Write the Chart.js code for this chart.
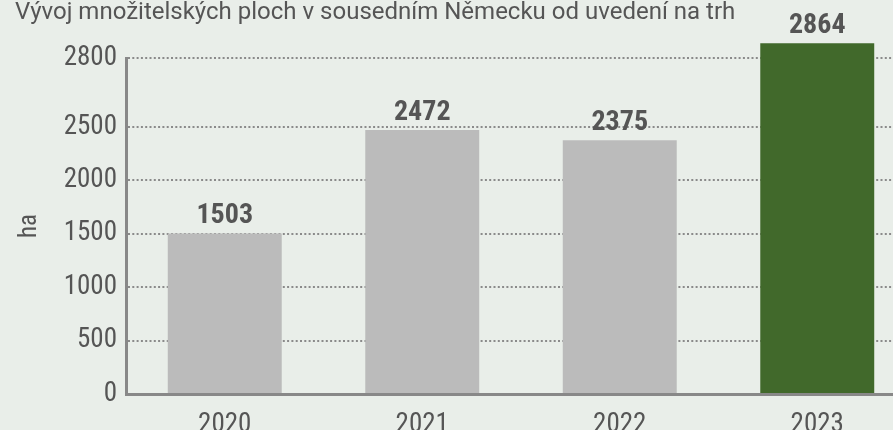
<!DOCTYPE html>
<html>
<head>
<meta charset="utf-8">
<script src="https://cdn.jsdelivr.net/npm/chart.js@4.4.1/dist/chart.umd.min.js"></script>
<style>
  html, body { margin: 0; padding: 0; background: #e9eee9; overflow: hidden; }
  #wrap { width: 918px; height: 430px; }
</style>
</head>
<body>
<div id="wrap"><canvas id="chart" width="918" height="430"></canvas></div>
<script>
const TITLE = "Vývoj množitelských ploch v sousedním Německu od uvedení na trh";
const years = ["2020", "2021", "2022", "2023"];
const areaHa = [1503, 2472, 2375, 2864];
const yTicks = [0, 500, 1000, 1500, 2000, 2500, 2800];
const yUnit = "ha";
const barColors = ["#bbbbbb", "#bbbbbb", "#bbbbbb", "#41692b"];

const FONT = '"Liberation Sans Narrow", "Roboto Condensed", "DejaVu Sans Condensed", "Liberation Sans", sans-serif';
const TITLE_FONT = 'Roboto, "Liberation Sans", sans-serif';
const TEXT = "#555555";

// The source axis is not linear: the 2800 line sits much higher than the
// 500-step spacing would put it. Reproduce that with a stretched top segment.
const STRETCH_FROM = 2500;
const STRETCH = 2.15;
function warp(v) { return v <= STRETCH_FROM ? v : STRETCH_FROM + (v - STRETCH_FROM) * STRETCH; }
function unwarp(w) { return w <= STRETCH_FROM ? w : STRETCH_FROM + (w - STRETCH_FROM) / STRETCH; }

class StretchScale extends Chart.LinearScale {
  getPixelForValue(value) {
    const lo = warp(this.min), hi = warp(this.max);
    return this.getPixelForDecimal((warp(value) - lo) / (hi - lo));
  }
  getValueForPixel(pixel) {
    const lo = warp(this.min), hi = warp(this.max);
    return unwarp(lo + this.getDecimalForPixel(pixel) * (hi - lo));
  }
}
StretchScale.id = "stretch";
StretchScale.defaults = Chart.LinearScale.defaults;
Chart.register(StretchScale);

// title text top-left, above the plot
const titlePlugin = {
  id: "titleText",
  beforeDraw(chart) {
    const ctx = chart.ctx;
    ctx.save();
    ctx.font = "24px " + TITLE_FONT;
    ctx.fillStyle = TEXT;
    ctx.textAlign = "left";
    ctx.textBaseline = "alphabetic";
    ctx.fillText(TITLE, 15, 19);
    ctx.restore();
  }
};

// bold value on top of every bar
const valueLabels = {
  id: "valueLabels",
  afterDatasetsDraw(chart) {
    const ctx = chart.ctx;
    const meta = chart.getDatasetMeta(0);
    ctx.save();
    ctx.font = "bold 28px " + FONT;
    ctx.fillStyle = TEXT;
    ctx.textAlign = "center";
    ctx.textBaseline = "alphabetic";
    meta.data.forEach((bar, i) => {
      ctx.fillText(String(areaHa[i]), bar.x, bar.y - 10);
    });
    ctx.restore();
  }
};

new Chart(document.getElementById("chart"), {
  type: "bar",
  data: {
    labels: years,
    datasets: [{
      data: areaHa,
      backgroundColor: barColors,
      borderWidth: 0,
      barPercentage: 0.577,
      categoryPercentage: 1,
      clip: false,
    }],
  },
  options: {
    responsive: false,
    animation: false,
    devicePixelRatio: 1,
    layout: { padding: { top: 58, right: 2, left: 0, bottom: 0 } },
    plugins: {
      legend: { display: false },
      tooltip: { enabled: false },
    },
    scales: {
      x: {
        grid: { display: false, drawTicks: false },
        border: { display: true, color: "#888888", width: 3 },
        ticks: { color: TEXT, font: { family: FONT, size: 27 }, padding: 15 },
        afterFit: (s) => { s.height = 36; },
      },
      y: {
        type: "stretch",
        min: 0,
        max: 2800,
        afterBuildTicks: (s) => { s.ticks = yTicks.map((v) => ({ value: v })); },
        grid: {
          drawTicks: false,
          color: (c) => (c.tick && c.tick.value === 0 ? "rgba(0,0,0,0)" : "#8a8a8a"),
          lineWidth: 2,
        },
        border: { display: true, color: "#888888", width: 3, dash: [2, 2.3] },
        ticks: {
          color: TEXT,
          font: { family: FONT, size: 27 },
          padding: 9,
          callback: (v) => String(v),
        },
        title: {
          display: true,
          text: yUnit,
          color: TEXT,
          font: { family: FONT, size: 25 },
          padding: { top: 15, bottom: 0 },
        },
        afterFit: (s) => { s.width = 126; },
      },
    },
  },
  plugins: [titlePlugin, valueLabels],
});
</script>
</body>
</html>
